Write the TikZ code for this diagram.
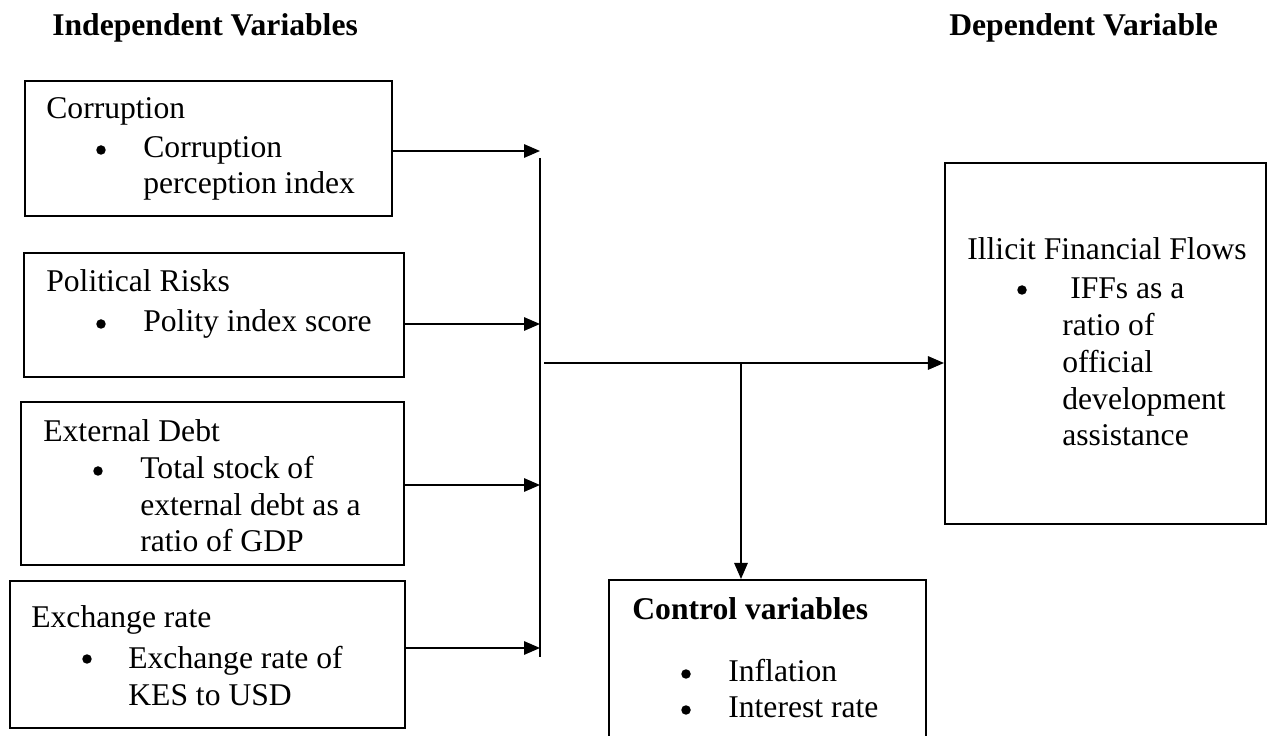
\documentclass[tikz,border=0pt]{standalone}
\usepackage{fontspec}
\setmainfont{Liberation Serif}
\usepackage{tikz}
\usetikzlibrary{arrows.meta, positioning, calc}

\begin{document}
\begin{tikzpicture}[x=0.02cm, y=-0.02cm, font=\fontsize{18}{21}\selectfont]
	\tikzstyle{varbox}=[draw=black, line width=1.2pt, inner sep=0pt, fill=none]
	\tikzstyle{txt}=[anchor=base west, inner sep=0pt, align=left]
	\tikzstyle{bul}=[circle, fill=black, inner sep=0pt, minimum size=0.19cm]
	\tikzstyle{conn}=[line width=0.8pt, -{Triangle[length=0.32cm, width=0.27cm]}]
	
	\path[use as bounding box, clip] (0,0) rectangle (1269,736);
	
	% headings
	\node (hind) [txt] at (52,36) {\textbf{Independent Variables}};
	\node (hdep) [txt] at (949,36) {\textbf{Dependent Variable}};
	
	% independent variables (multi-line texts sit on their last line)
	\node (corr) at (208.5,148.5) [varbox, minimum width=7.34cm, minimum height=2.70cm] {};
	\node (corrh) [txt] at (46,119) {Corruption};
	\node (corrb) [bul] at (101,150) {};
	\node (corrt) [txt] at (143,194) {Corruption\\perception index};
	
	\node (pol) at (214,315) [varbox, minimum width=7.60cm, minimum height=2.48cm] {};
	\node (polh) [txt] at (46,292) {Political Risks};
	\node (polb) [bul] at (101,324) {};
	\node (polt) [txt] at (143,332) {Polity index score};
	
	\node (ext) at (212.5,483.5) [varbox, minimum width=7.66cm, minimum height=3.26cm] {};
	\node (exth) [txt] at (43,442) {External Debt};
	\node (extb) [bul] at (98,471) {};
	\node (extt) [txt] at (140,552) {Total stock of\\external debt as a\\ratio of GDP};
	
	\node (exch) at (207.5,654.5) [varbox, minimum width=7.90cm, minimum height=2.94cm] {};
	\node (exchh) [txt] at (31,628) {Exchange rate};
	\node (exchb) [bul] at (87,659) {};
	\node (excht) [txt] at (128,705) {Exchange rate of\\KES to USD};
	
	% dependent variable
	\node (iff) at (1105.5,343.5) [varbox, minimum width=6.42cm, minimum height=7.22cm] {};
	\node (iffh) [txt] at (967,260) {Illicit Financial Flows};
	\node (iffb) [bul] at (1022,290) {};
	\node (ifft) [txt] at (1062,446) {\hspace{4.5pt}IFFs as a\\ratio of\\official\\development\\assistance};
	
	% control variables
	\node (ctrl) at (767.5,680) [varbox, minimum width=6.34cm, minimum height=4.0cm] {};
	\node (ctrlh) [txt] at (632,620) {\textbf{Control variables}};
	\node (ctrlb1) [bul] at (686,674) {};
	\node (ctrlt1) [txt] at (728,682) {Inflation};
	\node (ctrlb2) [bul] at (686,710) {};
	\node (ctrlt2) [txt] at (728,718) {Interest rate};
	
	% bus
	\coordinate (j1) at (540,151);
	\coordinate (j2) at (540,324);
	\coordinate (j3) at (540,485);
	\coordinate (j4) at (540,648);
	\coordinate (bustop) at (540,158);
	\coordinate (busbot) at (540,657);
	\coordinate (hstart) at (544,363);
	\coordinate (hsplit) at (741,363);
	
	\draw[conn] (corr.east |- j1) -- (j1);
	\draw[conn] (pol.east |- j2) -- (j2);
	\draw[conn] (ext.east |- j3) -- (j3);
	\draw[conn] (exch.east |- j4) -- (j4);
	\draw[line width=0.8pt] (bustop) -- (busbot);
	
	\draw[conn] (hstart) -- (hstart -| iff.west);
	\draw[conn] (hsplit) -- (hsplit |- ctrl.north);
\end{tikzpicture}
\end{document}
